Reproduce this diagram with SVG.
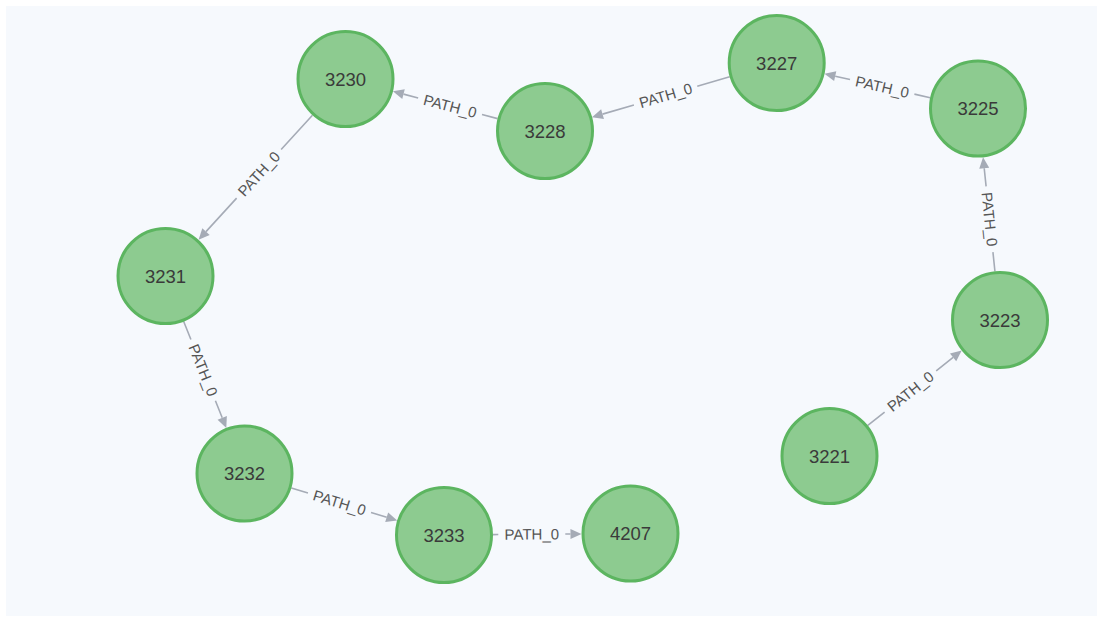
<svg xmlns="http://www.w3.org/2000/svg" width="1097" height="619" viewBox="0 0 1097 619">
  <style>
    .node circle { fill: #8dcb90; stroke: #5cb560; stroke-width: 3; }
    .node text { font-family: "Liberation Sans", Arial, sans-serif; font-size: 18.5px; fill: #3a3a3a; text-anchor: middle; }
    .edge path { fill: none; stroke: #a5abb6; stroke-width: 1.6; }
    .edge polygon { fill: #a5abb6; }
    .edge text { font-family: "Liberation Sans", Arial, sans-serif; font-size: 15px; fill: #555; text-anchor: middle; }
  </style>
  <rect x="0" y="0" width="1097" height="619" fill="#ffffff"/>
  <rect x="6" y="6" width="1091" height="610" fill="#f6f9fd"/>

  <!-- relationships: each drawn in its own frame along the source→target axis
       (node outer radius 49, arrowhead 11 long, label gap ±33 around shaft midpoint) -->
  <g id="connectors">
    <!-- 3221 -> 3223, length 218.1 -->
    <g class="edge" transform="translate(829.5 456) rotate(-38.58)">
      <path d="M49 0H70.5M136.5 0H158.1"/>
      <polygon points="158.1,-5 169.1,0 158.1,5"/>
      <text x="103.5" y="0" dy="0.35em">PATH_0</text>
    </g>
    <!-- 3223 -> 3225, length 212.6 -->
    <g class="edge" transform="translate(1000 320) rotate(-95.94)">
      <path d="M49 0H68.3M134.3 0H152.6"/>
      <polygon points="152.6,-5 163.6,0 152.6,5"/>
      <text x="101.3" y="0" dy="0.35em" transform="rotate(180 101.3 0)">PATH_0</text>
    </g>
    <!-- 3225 -> 3227, length 206.4 -->
    <g class="edge" transform="translate(978 108.5) rotate(-167.26)">
      <path d="M49 0H65.2M131.2 0H146.4"/>
      <polygon points="146.4,-5 157.4,0 146.4,5"/>
      <text x="98.2" y="0" dy="0.35em" transform="rotate(180 98.2 0)">PATH_0</text>
    </g>
    <!-- 3227 -> 3228, length 241.5 -->
    <g class="edge" transform="translate(776.7 63) rotate(163.64)">
      <path d="M49 0H82.8M148.8 0H181.5"/>
      <polygon points="181.5,-5 192.5,0 181.5,5"/>
      <text x="115.8" y="0" dy="0.35em" transform="rotate(180 115.8 0)">PATH_0</text>
    </g>
    <!-- 3228 -> 3230, length 206.2 -->
    <g class="edge" transform="translate(545 131) rotate(-165.39)">
      <path d="M49 0H65.1M131.1 0H146.2"/>
      <polygon points="146.2,-5 157.2,0 146.2,5"/>
      <text x="98.1" y="0" dy="0.35em" transform="rotate(180 98.1 0)">PATH_0</text>
    </g>
    <!-- 3230 -> 3231, length 266.8 -->
    <g class="edge" transform="translate(345.5 79) rotate(132.42)">
      <path d="M49 0H95.4M161.4 0H206.8"/>
      <polygon points="206.8,-5 217.8,0 206.8,5"/>
      <text x="128.4" y="0" dy="0.35em" transform="rotate(180 128.4 0)">PATH_0</text>
    </g>
    <!-- 3231 -> 3232, length 212.7 -->
    <g class="edge" transform="translate(165.5 276) rotate(68.2)">
      <path d="M49 0H68.4M134.4 0H152.7"/>
      <polygon points="152.7,-5 163.7,0 152.7,5"/>
      <text x="101.4" y="0" dy="0.35em">PATH_0</text>
    </g>
    <!-- 3232 -> 3233, length 208.8 -->
    <g class="edge" transform="translate(244.5 473.5) rotate(17.13)">
      <path d="M49 0H66.4M132.4 0H148.8"/>
      <polygon points="148.8,-5 159.8,0 148.8,5"/>
      <text x="99.4" y="0" dy="0.35em">PATH_0</text>
    </g>
    <!-- 3233 -> 4207, length 186.5 -->
    <g class="edge" transform="translate(444 535) rotate(-0.46)">
      <path d="M49 0H54.3M121.3 0H126.5"/>
      <polygon points="126.5,-5 137.5,0 126.5,5"/>
      <text x="87.8" y="0" dy="0.35em">PATH_0</text>
    </g>
  </g>

  <g id="node-3230" class="node"><circle cx="345.5" cy="79" r="47.5"/><text x="345.5" y="85.5">3230</text></g>
  <g id="node-3228" class="node"><circle cx="545" cy="131" r="47.5"/><text x="545" y="137.5">3228</text></g>
  <g id="node-3227" class="node"><circle cx="776.7" cy="63" r="47.5"/><text x="776.7" y="69.5">3227</text></g>
  <g id="node-3225" class="node"><circle cx="978" cy="108.5" r="47.5"/><text x="978" y="115">3225</text></g>
  <g id="node-3223" class="node"><circle cx="1000" cy="320" r="47.5"/><text x="1000" y="326.5">3223</text></g>
  <g id="node-3221" class="node"><circle cx="829.5" cy="456" r="47.5"/><text x="829.5" y="462.5">3221</text></g>
  <g id="node-3231" class="node"><circle cx="165.5" cy="276" r="47.5"/><text x="165.5" y="282.5">3231</text></g>
  <g id="node-3232" class="node"><circle cx="244.5" cy="473.5" r="47.5"/><text x="244.5" y="480">3232</text></g>
  <g id="node-3233" class="node"><circle cx="444" cy="535" r="47.5"/><text x="444" y="541.5">3233</text></g>
  <g id="node-4207" class="node"><circle cx="630.5" cy="533.5" r="47.5"/><text x="630.5" y="540">4207</text></g>
</svg>
